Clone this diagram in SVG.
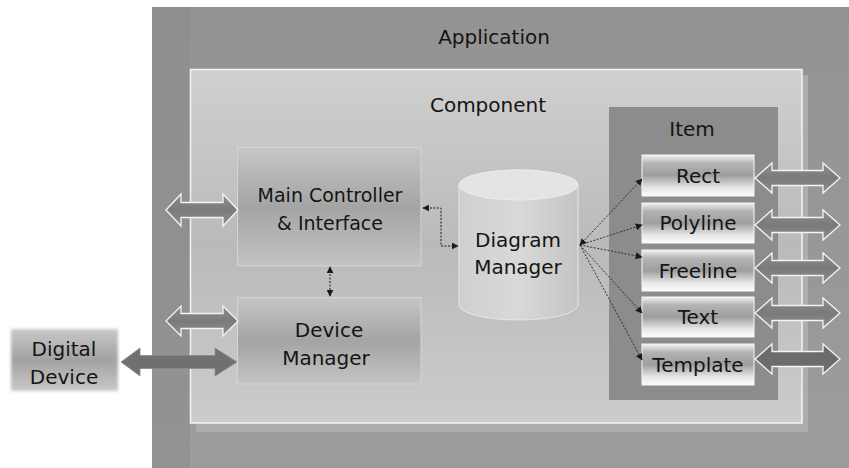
<svg xmlns="http://www.w3.org/2000/svg" width="849" height="468" viewBox="0 0 849 468">
<defs>
<style>
.t{font-family:"DejaVu Sans","Liberation Sans",sans-serif;fill:#141414;text-anchor:middle}
.big{font-size:20px}
.conn{fill:none;stroke:#1a1a1a;stroke-width:1;stroke-dasharray:2 1.5}
.fan{fill:none;stroke:#222;stroke-width:0.9;stroke-dasharray:2 1.5}
.dbl{stroke:#f4f4f4;stroke-width:1.3;fill:url(#arrG)}
.item{fill:url(#metal);stroke:#f8f8f8;stroke-width:1}
</style>
<linearGradient id="appG" x1="0" y1="0" x2="0" y2="1">
<stop offset="0" stop-color="#939393"/><stop offset="1" stop-color="#9c9c9c"/>
</linearGradient>
<linearGradient id="compG" x1="0" y1="0" x2="0" y2="1">
<stop offset="0" stop-color="#d0d0d0"/><stop offset="0.5" stop-color="#bababa"/><stop offset="1" stop-color="#cccccc"/>
</linearGradient>
<linearGradient id="boxG" x1="0" y1="0" x2="0" y2="1">
<stop offset="0" stop-color="#c6c6c6"/><stop offset="0.5" stop-color="#a4a4a4"/><stop offset="1" stop-color="#c4c4c4"/>
</linearGradient>
<linearGradient id="metal" x1="0" y1="0" x2="0" y2="1">
<stop offset="0" stop-color="#f2f2f2"/><stop offset="0.2" stop-color="#b4b4b4"/><stop offset="0.5" stop-color="#9e9e9e"/><stop offset="0.8" stop-color="#e6e6e6"/><stop offset="1" stop-color="#fbfbfb"/>
</linearGradient>
<linearGradient id="cylG" x1="0" y1="0" x2="1" y2="0">
<stop offset="0" stop-color="#cfcfcf"/><stop offset="0.5" stop-color="#d9d9d9"/><stop offset="1" stop-color="#c4c4c4"/>
</linearGradient>
<linearGradient id="arrG" x1="0" y1="0" x2="0" y2="1">
<stop offset="0" stop-color="#8e8e8e"/><stop offset="0.5" stop-color="#7a7a7a"/><stop offset="1" stop-color="#8e8e8e"/>
</linearGradient>
<linearGradient id="ddG" x1="0" y1="0" x2="0" y2="1">
<stop offset="0" stop-color="#c8c8c8"/><stop offset="0.5" stop-color="#a2a2a2"/><stop offset="1" stop-color="#c8c8c8"/>
</linearGradient>
<filter id="soft" x="-10%" y="-20%" width="120%" height="140%"><feGaussianBlur stdDeviation="1.6"/></filter>
<marker id="ah" viewBox="0 0 10 10" refX="9" refY="5" markerWidth="7" markerHeight="7" orient="auto-start-reverse" markerUnits="userSpaceOnUse">
<path d="M0,0 L10,5 L0,10 Z" fill="#1a1a1a"/>
</marker>
</defs>

<g id="application">
<rect x="152" y="7" width="697" height="461" fill="url(#appG)"/>
<rect x="152" y="7" width="38" height="461" fill="#8a8a8a" opacity="0.5"/>
<text class="t big" x="494" y="44">Application</text>
</g>

<g id="component">
<rect x="196" y="75" width="612" height="357" fill="#adadad"/>
<rect x="190.5" y="69.5" width="611.5" height="353.5" fill="url(#compG)" stroke="#f4f4f4" stroke-width="1.5"/>
<text class="t big" x="488" y="112">Component</text>
</g>

<g id="item">
<rect x="609" y="107" width="169" height="293" fill="#8c8c8c"/>
<text class="t big" x="692" y="136">Item</text>
</g>

<g id="main-controller">
<rect x="237.5" y="147.5" width="183.5" height="118.5" fill="url(#boxG)" stroke="#d4d4d4" stroke-width="1"/>
<text class="t" style="font-size:19px" x="330" y="202">Main Controller</text>
<text class="t" style="font-size:19px" x="330" y="230">&amp; Interface</text>
</g>

<g id="device-manager">
<rect x="237.5" y="297.5" width="183.5" height="86.5" fill="url(#boxG)" stroke="#d4d4d4" stroke-width="1"/>
<text class="t big" x="329" y="337">Device</text>
<text class="t big" x="326" y="365">Manager</text>
</g>

<g id="diagram-manager">
<path d="M459,185 V305 A59.5,15 0 0 0 578,305 V185 A59.5,15 0 0 0 459,185 Z" fill="url(#cylG)" stroke="#e6e6e6" stroke-width="1"/>
<ellipse cx="518.5" cy="185" rx="59.5" ry="15" fill="#e4e4e4" stroke="#ededed" stroke-width="1"/>
<text class="t big" x="518" y="247">Diagram</text>
<text class="t big" x="518" y="274">Manager</text>
</g>

<g id="digital-device">
<rect x="11" y="329" width="107" height="62" fill="url(#ddG)" filter="url(#soft)"/>
<text class="t big" x="64" y="356">Digital</text>
<text class="t big" x="64" y="384">Device</text>
</g>

<g id="rect"><rect class="item" x="642" y="155" width="112" height="41"/><text class="t big" x="698" y="183">Rect</text></g>
<g id="polyline"><rect class="item" x="642" y="203" width="112" height="40"/><text class="t big" x="698" y="230">Polyline</text></g>
<g id="freeline"><rect class="item" x="642" y="250" width="112" height="41"/><text class="t big" x="698" y="278">Freeline</text></g>
<g id="text"><rect class="item" x="642" y="297" width="112" height="40"/><text class="t big" x="698" y="324">Text</text></g>
<g id="template"><rect class="item" x="642" y="344" width="112" height="41"/><text class="t big" x="698" y="372">Template</text></g>

<g id="connectors">
<polygon class="dbl" points="166,210 181,194 181,202.5 223,202.5 223,194 238,210 223,226 223,217.5 181,217.5 181,226"/>
<polygon class="dbl" points="166,321 181,306 181,313.5 223,313.5 223,306 238,321 223,336 223,328.5 181,328.5 181,336"/>
<polygon points="121,362 140,348 140,355.5 215,355.5 215,348 237,362 215,376 215,368.5 140,368.5 140,376" fill="#707070" stroke="#8a8a8a" stroke-width="0.8"/>
<polygon class="dbl" points="755,178 772,163 772,170.5 823,170.5 823,163 840,178 823,193 823,185.5 772,185.5 772,193"/>
<polygon class="dbl" points="755,225 772,210 772,217.5 823,217.5 823,210 840,225 823,240 823,232.5 772,232.5 772,240"/>
<polygon class="dbl" points="755,268 772,253 772,260.5 823,260.5 823,253 840,268 823,283 823,275.5 772,275.5 772,283"/>
<polygon class="dbl" points="755,313 772,298 772,305.5 823,305.5 823,298 840,313 823,328 823,320.5 772,320.5 772,328"/>
<polygon class="dbl" points="755,359 772,344 772,351.5 823,351.5 823,344 840,359 823,374 823,366.5 772,366.5 772,374" style="fill:#6c6c6c"/>
<path class="conn" d="M423,208 H441 V246 H458" marker-start="url(#ah)" marker-end="url(#ah)"/>
<path class="conn" d="M330,267 V296" marker-start="url(#ah)" marker-end="url(#ah)"/>
<path class="fan" d="M580,245 L642,179" marker-start="url(#ah)" marker-end="url(#ah)"/>
<path class="fan" d="M580,245 L642,225" marker-end="url(#ah)"/>
<path class="fan" d="M580,245 L642,257" marker-end="url(#ah)"/>
<path class="fan" d="M580,245 L642,313" marker-end="url(#ah)"/>
<path class="fan" d="M580,245 L642,360" marker-end="url(#ah)"/>
</g>
</svg>
